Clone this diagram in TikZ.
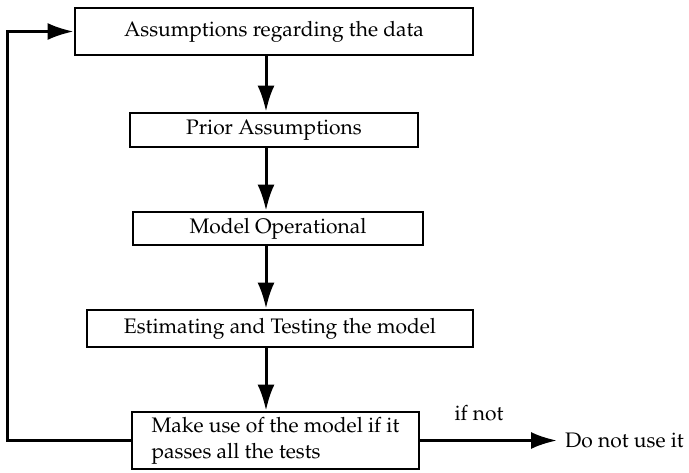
\documentclass[tikz,border=0pt]{standalone}
\usepackage[T1]{fontenc}
\usepackage{mathpazo}
\usetikzlibrary{arrows.meta}
\tikzset{
  box/.style={draw, line width=2.8pt, inner sep=0pt, font=\fontsize{21}{26}\selectfont},
  arr/.style={line width=3pt, -{Latex[length=26pt,width=17pt]}},
  lbl/.style={inner sep=0pt, font=\fontsize{21}{26}\selectfont}
}
\begin{document}
\begin{tikzpicture}[x=1pt,y=-1pt]
\fill[white] (0,0) rectangle (689,472);
\useasboundingbox (0,0) rectangle (689,472);
\node[box, minimum width=398pt, minimum height=47pt] (b1) at (274,31.5) {Assumptions regarding the data};
\node[box, minimum width=288pt, minimum height=34pt] (b2) at (274,130) {Prior Assumptions};
\node[box, minimum width=290pt, minimum height=33pt] (b3) at (278,228.5) {Model Operational};
\node[box, minimum width=386pt, minimum height=37pt] (b4) at (280,328.5) {Estimating and Testing the model};
\node[box, minimum width=287pt, minimum height=57pt, align=left] (b5) at (275.5,440.5) {Make use of the model if it\\passes all the tests};
\node[lbl, anchor=west] (dn) at (565,440) {Do not use it};
\node[lbl] (ifn) at (479,413) {if not};
\coordinate (ax) at (266,0);
\coordinate (lp) at (7,0);
\coordinate (tip) at (557,0);
\draw[arr] (b1.south -| ax) -- (b2.north -| ax);
\draw[arr] (b2.south -| ax) -- (b3.north -| ax);
\draw[arr] (b3.south -| ax) -- (b4.north -| ax);
\draw[arr] (b4.south -| ax) -- (b5.north -| ax);
\draw[arr] (b5.west) -- (b5.west -| lp) |- (b1.west);
\draw[arr] (b5.east) -- (b5.east -| tip);
\end{tikzpicture}
\end{document}
